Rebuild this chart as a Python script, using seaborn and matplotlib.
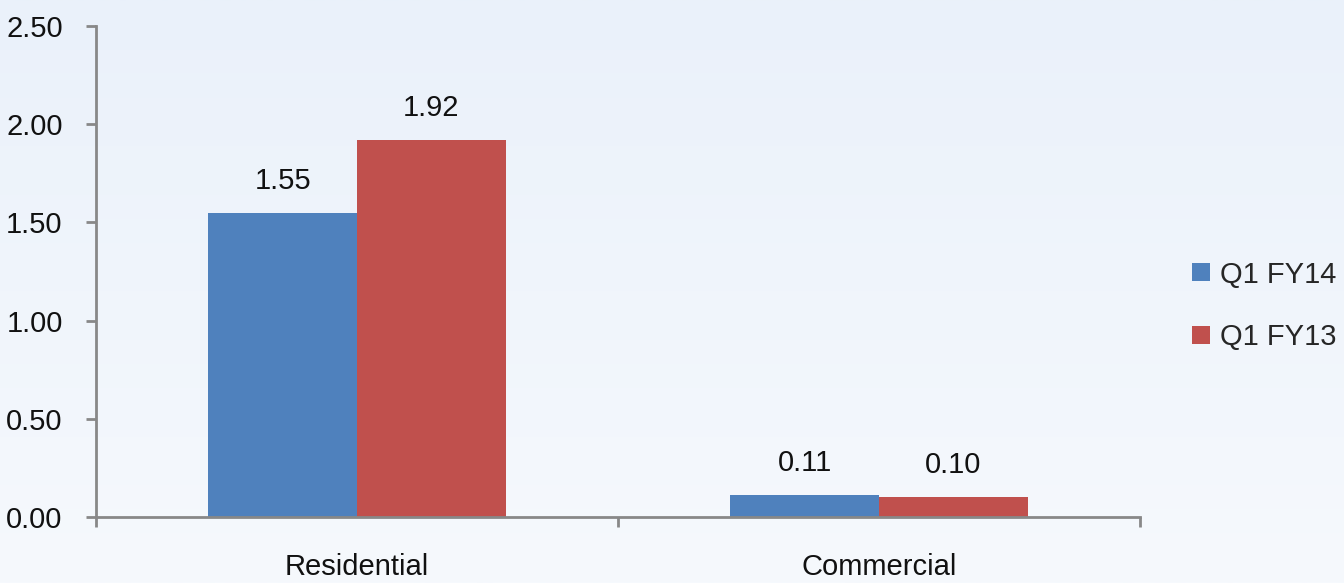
import numpy as np
import pandas as pd
import matplotlib
matplotlib.use("Agg")
import matplotlib.pyplot as plt
import seaborn as sns
from matplotlib.ticker import FixedLocator, FormatStrFormatter

categories = ["Residential", "Commercial"]
series_names = ["Q1 FY14", "Q1 FY13"]
q1_fy14 = [1.55, 0.11]
q1_fy13 = [1.92, 0.10]
y_ticks = [0.0, 0.5, 1.0, 1.5, 2.0, 2.5]

colors = {"Q1 FY14": "#4F81BD", "Q1 FY13": "#C0504D"}
axis_grey = "#888888"
fs = 21

df = pd.DataFrame({
    "category": categories * 2,
    "series": [series_names[0]] * 2 + [series_names[1]] * 2,
    "value": q1_fy14 + q1_fy13,
})

sns.set_theme(style="white")
plt.rcParams["font.family"] = ["Liberation Sans", "DejaVu Sans"]

fig = plt.figure(figsize=(13.44, 5.83), dpi=100)

# soft vertical gradient behind everything
bg = fig.add_axes([0, 0, 1, 1], zorder=-10)
grad = np.linspace(0, 1, 256).reshape(-1, 1)
top = np.array([0xEA, 0xF1, 0xFA]) / 255
bot = np.array([0xF6, 0xF9, 0xFD]) / 255
img = top + (bot - top) * grad[..., None]
bg.imshow(img, aspect="auto", extent=[0, 1, 0, 1])
bg.axis("off")

ax = fig.add_axes([96 / 1344, 1 - 517 / 583, (1140 - 96) / 1344, (517 - 26) / 583])
ax.patch.set_alpha(0)

sns.barplot(data=df, x="category", y="value", hue="series", hue_order=series_names,
            palette=colors, width=0.57, saturation=1, ax=ax, errorbar=None,
            edgecolor="none", linewidth=0)

for cont in ax.containers:
    ax.bar_label(cont, fmt="%.2f", padding=13, fontsize=fs, color="#111111")

ax.set_xlim(-0.5, 1.5)
ax.set_ylim(0, 2.5)
ax.set_yticks(y_ticks)
ax.yaxis.set_major_formatter(FormatStrFormatter("%.2f"))
ax.set_xlabel("")
ax.set_ylabel("")

for side in ["top", "right"]:
    ax.spines[side].set_visible(False)
for side in ["left", "bottom"]:
    ax.spines[side].set_color(axis_grey)
    ax.spines[side].set_linewidth(2)

ax.tick_params(axis="y", which="major", length=7, width=2, color=axis_grey,
               direction="out", left=True, pad=17, labelsize=fs, labelcolor="#111111")
ax.tick_params(axis="x", which="major", length=0, pad=26, labelsize=fs, labelcolor="#111111")
ax.xaxis.set_minor_locator(FixedLocator([-0.5, 0.5, 1.5]))
ax.tick_params(axis="x", which="minor", length=7, width=2, color=axis_grey,
               direction="out", bottom=True)

handles, labels = ax.get_legend_handles_labels()
leg = ax.legend(handles, labels, loc="center left",
                bbox_to_anchor=(1192 / 1344, 1 - 306 / 583), bbox_transform=fig.transFigure,
                frameon=False, fontsize=fs, handlelength=0.6, handleheight=0.6,
                handletextpad=0.35, labelspacing=1.2, borderpad=0, borderaxespad=0)

fig.savefig("out.png", dpi=100)
